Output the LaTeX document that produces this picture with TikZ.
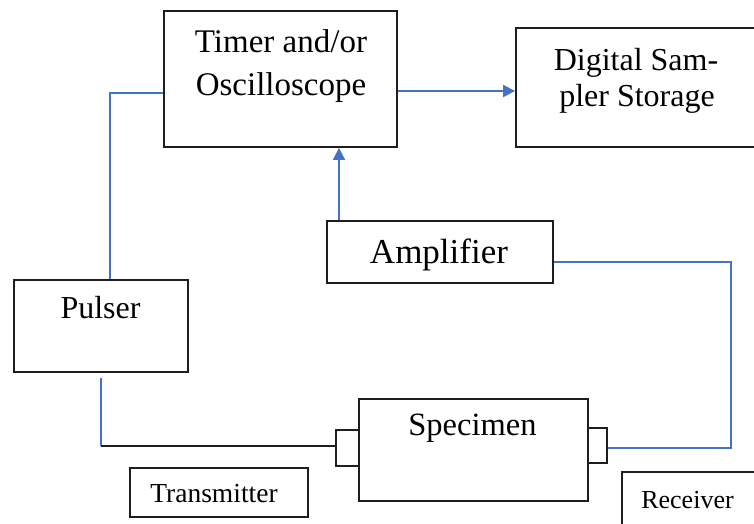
\documentclass[tikz,border=0pt]{standalone}
\usepackage{fontspec}
\setmainfont{Liberation Serif}
\usetikzlibrary{arrows.meta,calc}
\definecolor{wireblue}{RGB}{68,114,196}
\definecolor{edgegray}{RGB}{30,30,30}
\begin{document}
\begin{tikzpicture}[x=1pt,y=-1pt,
  box/.style={draw=edgegray,line width=1.8pt,inner sep=0pt,rectangle,fill=white},
  txt/.style={anchor=base,inner sep=0pt,text=black},
  wire/.style={draw=wireblue,line width=1.7pt},
  feed/.style={draw=edgegray,line width=1.7pt},
  arr/.style={wire,-{Triangle[length=12pt,width=12pt]}}
]
\useasboundingbox (0,0) rectangle (754,523);
\clip (0,0) rectangle (754,523);

% transducer caps on the specimen
\node[box,minimum width=23pt,minimum height=36pt] (tx) at (347.5,448) {};
\node[box,minimum width=19pt,minimum height=35pt] (rx) at (597.5,445.5) {};

% blocks
\node[box,minimum width=233pt,minimum height=136pt] (timer) at (280.5,79) {};
\node[box,minimum width=244pt,minimum height=119pt] (sampler) at (638,87.5) {};
\node[box,minimum width=174pt,minimum height=92pt] (pulser) at (101,326) {};
\node[box,minimum width=226pt,minimum height=62pt] (amp) at (440,252) {};
\node[box,minimum width=229pt,minimum height=102pt] (specimen) at (473.5,450) {};
\node[box,minimum width=178pt,minimum height=49pt] (transmitter) at (219,492.5) {};
\node[box,minimum width=148pt,minimum height=63pt] (receiver) at (696,503.5) {};

% labels
\node[txt,font=\fontsize{33}{40}\selectfont] (timerA) at (281,52) {Timer and/or};
\node[txt,font=\fontsize{33}{40}\selectfont] (timerB) at (281,95) {Oscilloscope};
\node[txt,font=\fontsize{32}{40}\selectfont] (samplerA) at (636,70) {Digital Sam-};
\node[txt,font=\fontsize{32}{40}\selectfont] (samplerB) at (637,106) {pler Storage};
\node[txt,font=\fontsize{35}{40}\selectfont] (ampT) at (439,263) {Amplifier};
\node[txt,font=\fontsize{32}{40}\selectfont] (pulserT) at (100.5,318) {Pulser};
\node[txt,font=\fontsize{32.5}{40}\selectfont] (specT) at (472.5,435) {Specimen};
\node[txt,font=\fontsize{27.5}{32}\selectfont] (txT) at (214,502) {Transmitter};
\node[txt,font=\fontsize{26}{32}\selectfont] (rxT) at (687.5,508) {Receiver};

% connectors
\draw[wire] ([xshift=9pt]pulser.north) |- ([yshift=-14pt]timer.west);
\draw[arr] ([yshift=-12pt]timer.east) -- ([yshift=-12pt]timer.east -| sampler.west);
\draw[arr] ([xshift=-101pt]amp.north) -- ([xshift=-101pt]amp.north |- timer.south);
\coordinate (rturn) at (731,262);
\draw[wire] ([yshift=-10pt]amp.east) -- (rturn) |- ([yshift=-2.5pt]rx.east);
\draw[wire] ([yshift=-5pt]pulser.south) -- ([yshift=2pt]pulser.south |- tx.west) coordinate (lturn);
\draw[feed] (lturn) -- ([yshift=2pt]tx.west);
\end{tikzpicture}
\end{document}
